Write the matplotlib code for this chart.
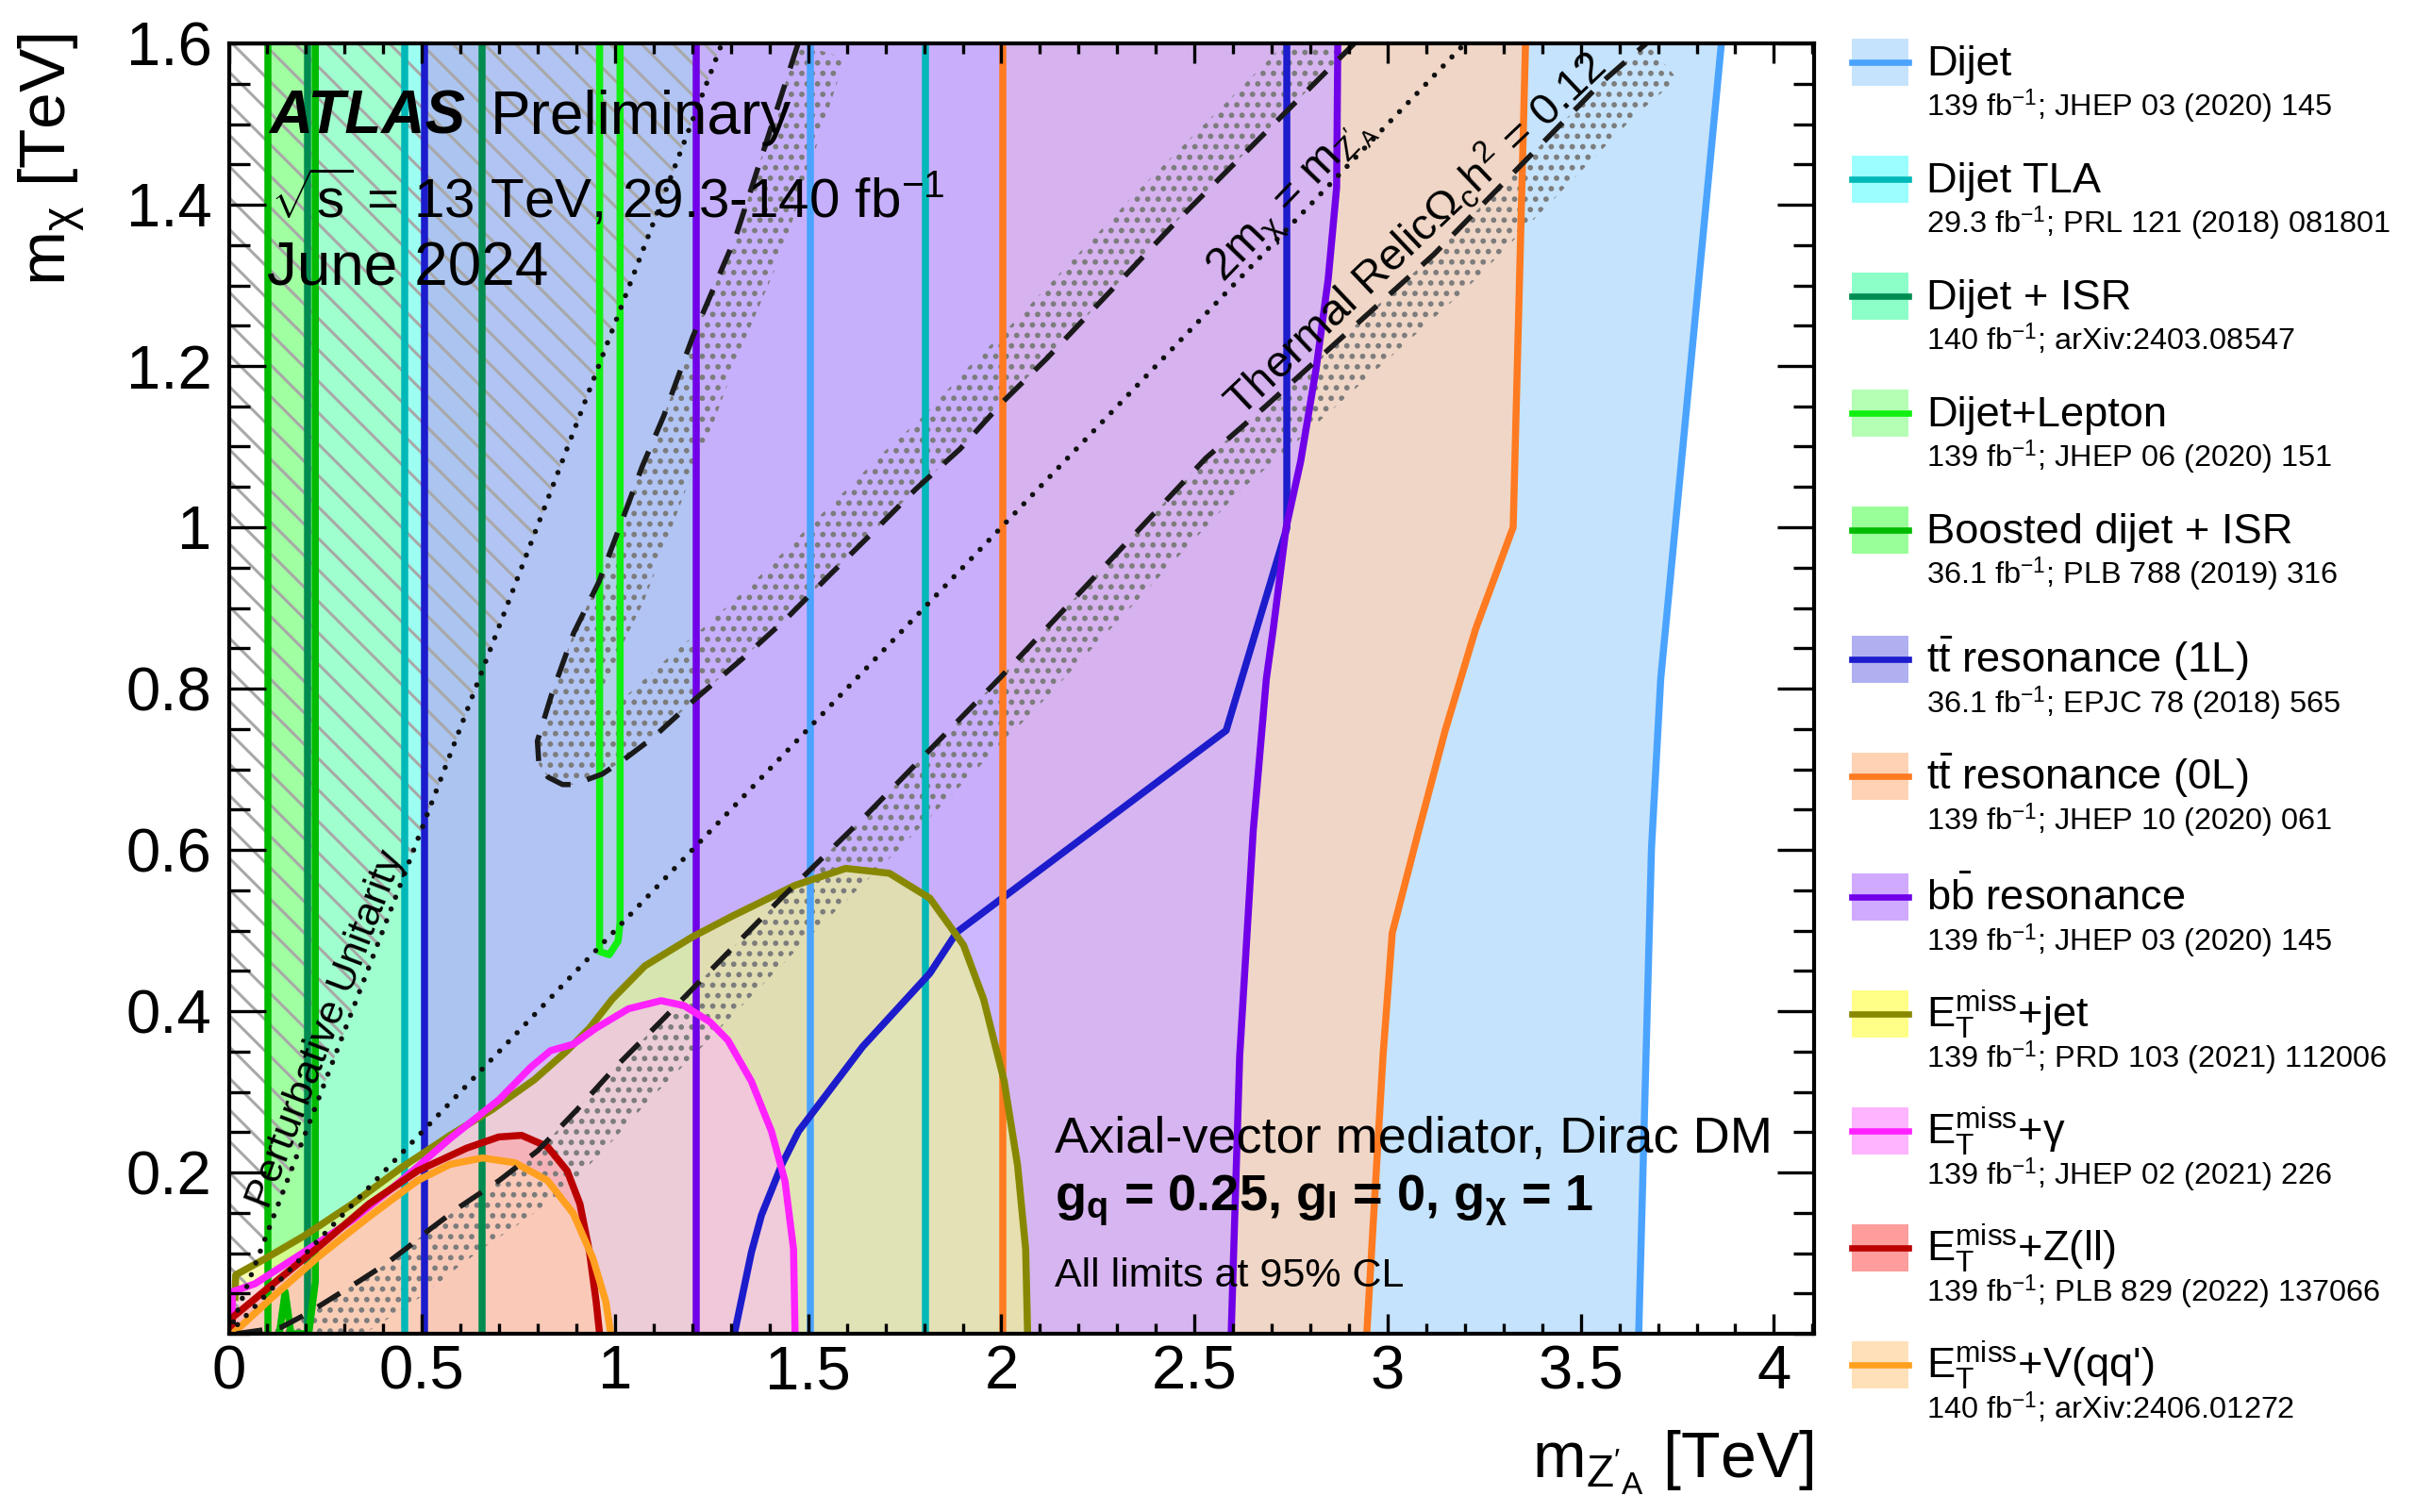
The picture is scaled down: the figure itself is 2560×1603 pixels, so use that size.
import numpy as np
import matplotlib
matplotlib.use("Agg")
import matplotlib.pyplot as plt
from matplotlib.patches import Polygon, Rectangle
from matplotlib.lines import Line2D
from matplotlib.ticker import FixedLocator, FixedFormatter, MultipleLocator

plt.rcParams['font.family'] = ['Liberation Sans', 'DejaVu Sans']
plt.rcParams['mathtext.fontset'] = 'custom'
plt.rcParams['mathtext.rm'] = 'Liberation Sans'
plt.rcParams['mathtext.it'] = 'Liberation Sans:italic'
plt.rcParams['mathtext.bf'] = 'Liberation Sans:bold'
plt.rcParams['mathtext.sf'] = 'Liberation Sans'
plt.rcParams['mathtext.default'] = 'rm'

# ---------------- axis data ----------------
x_limits = [0.0, 4.104]
y_limits = [0.0, 1.6]
x_tick_values = [0, 0.5, 1, 1.5, 2, 2.5, 3, 3.5, 4]
x_tick_labels = ["0", "0.5", "1", "1.5", "2", "2.5", "3", "3.5", "4"]
y_tick_values = [0.2, 0.4, 0.6, 0.8, 1.0, 1.2, 1.4, 1.6]
y_tick_labels = ["0.2", "0.4", "0.6", "0.8", "1", "1.2", "1.4", "1.6"]

# ---------------- exclusion contours (TeV) ----------------
dijet_left = 1.505
dijet_right_x = [3.650, 3.663, 3.683, 3.707, 3.864]
dijet_right_y = [0.0, 0.236, 0.601, 0.812, 1.6]

tla_left = 0.455
tla_right_x = [1.804, 1.804]
tla_right_y = [0.0, 1.6]

isr_left = 0.203
isr_right_x = [0.655, 0.655]
isr_right_y = [0.0, 1.6]

boosted_left = 0.102
boosted_right_x = [0.131, 0.146, 0.161, 0.207, 0.224, 0.224]
boosted_right_y = [0.0, 0.052, 0.0, 0.0, 0.064, 1.6]

lepton_x = [0.960, 0.960, 0.985, 1.008, 1.013, 1.013]
lepton_y = [1.6, 0.474, 0.470, 0.487, 0.510, 1.6]

tt1l_left = 0.506
tt1l_right_x = [1.309, 1.353, 1.379, 1.431, 1.475, 1.641, 1.815, 1.885, 2.582, 2.739, 2.739]
tt1l_right_y = [0.0, 0.101, 0.147, 0.209, 0.251, 0.356, 0.447, 0.498, 0.748, 0.999, 1.6]

tt0l_left = 2.004
tt0l_right_x = [2.946, 2.988, 3.012, 3.080, 3.149, 3.228, 3.325, 3.342, 3.357]
tt0l_right_y = [0.0, 0.344, 0.497, 0.623, 0.748, 0.874, 1.0, 1.317, 1.6]

bb_left = 1.21
bb_right_x = [2.595, 2.617, 2.652, 2.686, 2.704, 2.737, 2.775, 2.815, 2.846, 2.868, 2.871]
bb_right_y = [0.0, 0.344, 0.623, 0.812, 0.874, 0.999, 1.082, 1.197, 1.307, 1.421, 1.6]

metjet_x = [0.016, 0.018, 0.094, 0.194, 0.320, 0.447, 0.573, 0.682, 0.791, 0.876, 0.934, 0.993,
            1.077, 1.200, 1.300, 1.466, 1.597, 1.710, 1.815, 1.902, 1.954, 2.007, 2.042, 2.063, 2.068]
metjet_y = [0.045, 0.073, 0.093, 0.121, 0.161, 0.206, 0.246, 0.278, 0.315, 0.351, 0.379, 0.415,
            0.456, 0.492, 0.517, 0.556, 0.577, 0.571, 0.540, 0.482, 0.415, 0.314, 0.209, 0.105, 0.0]

metgam_x = [0.009, 0.009, 0.068, 0.194, 0.320, 0.447, 0.573, 0.699, 0.783, 0.833, 0.892, 0.951,
            1.035, 1.119, 1.178, 1.245, 1.292, 1.353, 1.405, 1.440, 1.462, 1.466]
metgam_y = [0.0, 0.052, 0.062, 0.101, 0.141, 0.190, 0.242, 0.290, 0.331, 0.351, 0.359, 0.379,
            0.403, 0.413, 0.407, 0.387, 0.364, 0.313, 0.251, 0.189, 0.105, 0.0]

metz_x = [0.009, 0.009, 0.110, 0.236, 0.363, 0.489, 0.615, 0.699, 0.758, 0.825, 0.876, 0.909, 0.934, 0.951, 0.960]
metz_y = [0.0, 0.020, 0.060, 0.109, 0.161, 0.202, 0.230, 0.244, 0.246, 0.232, 0.202, 0.161, 0.101, 0.040, 0.0]

metv_x = [0.010, 0.110, 0.236, 0.363, 0.489, 0.573, 0.657, 0.741, 0.825, 0.892, 0.943, 0.976, 0.989]
metv_y = [0.0, 0.044, 0.097, 0.145, 0.190, 0.210, 0.218, 0.212, 0.190, 0.149, 0.093, 0.040, 0.0]

# ---------------- theory lines ----------------
unitarity_x = [0.0, 1.2767]
unitarity_y = [0.0, 1.6]
twom_x = [0.0, 3.2]
twom_y = [0.0, 1.6]

relic_x = [0.02, 0.136, 0.203, 0.27, 0.337, 0.405, 0.463, 0.522, 0.60, 0.70, 0.80, 0.90, 1.00,
           1.12, 1.24, 1.43, 1.65, 2.00, 2.53, 2.684, 3.119, 3.555, 3.67]
relic_y = [0.0, 0.008, 0.025, 0.045, 0.065, 0.086, 0.107, 0.130, 0.158, 0.190, 0.227, 0.277, 0.330,
           0.388, 0.447, 0.540, 0.643, 0.815, 1.086, 1.150, 1.338, 1.552, 1.6]

tongue_x = [1.474, 1.313, 1.201, 1.126, 1.070, 1.014, 0.958, 0.893, 0.836, 0.799, 0.803, 0.827, 0.864,
            0.893, 0.967, 1.023, 1.098, 1.210, 1.332, 1.444, 1.556, 1.668, 1.780, 1.893, 2.005,
            2.117, 2.445, 2.914]
tongue_y = [1.6, 1.361, 1.236, 1.138, 1.075, 1.003, 0.932, 0.869, 0.793, 0.735, 0.705, 0.690, 0.681,
            0.681, 0.694, 0.712, 0.739, 0.788, 0.838, 0.887, 0.941, 0.994, 1.048, 1.097, 1.156,
            1.209, 1.375, 1.6]

# ---------------- legend ----------------
legend_labels = ["Dijet", "Dijet TLA", "Dijet + ISR", "Dijet+Lepton", "Boosted dijet + ISR",
                 r"t$\bar{\mathrm{t}}$ resonance (1L)", r"t$\bar{\mathrm{t}}$ resonance (0L)",
                 r"b$\bar{\mathrm{b}}$ resonance",
                 r"E$_{\mathrm{T}}^{\mathrm{miss}}$+jet", r"E$_{\mathrm{T}}^{\mathrm{miss}}$+$\gamma$",
                 r"E$_{\mathrm{T}}^{\mathrm{miss}}$+Z(ll)", r"E$_{\mathrm{T}}^{\mathrm{miss}}$+V(qq')"]
legend_refs = [r"139 fb$^{-1}$; JHEP 03 (2020) 145", r"29.3 fb$^{-1}$; PRL 121 (2018) 081801",
               r"140 fb$^{-1}$; arXiv:2403.08547", r"139 fb$^{-1}$; JHEP 06 (2020) 151",
               r"36.1 fb$^{-1}$; PLB 788 (2019) 316", r"36.1 fb$^{-1}$; EPJC 78 (2018) 565",
               r"139 fb$^{-1}$; JHEP 10 (2020) 061", r"139 fb$^{-1}$; JHEP 03 (2020) 145",
               r"139 fb$^{-1}$; PRD 103 (2021) 112006", r"139 fb$^{-1}$; JHEP 02 (2021) 226",
               r"139 fb$^{-1}$; PLB 829 (2022) 137066", r"140 fb$^{-1}$; arXiv:2406.01272"]
line_colors = ['#4aa3ff', '#00b8b8', '#008c50', '#11f011', '#00bb00', '#1c1ccc',
               '#ff7a20', '#7000e8', '#888800', '#ff22ff', '#bb0000', '#ffa020']
swatch_colors = ['#c5e3fc', '#9cffff', '#8cffc8', '#b4ffb4', '#99ff99', '#b0b0f0',
                 '#ffd2b4', '#cfaaff', '#ffff88', '#ffb4ff', '#ff9c9c', '#ffe0b8']

# ---------------- figure ----------------
W, H = 2560, 1603
DPI = 200
LW = 2.7
fig = plt.figure(figsize=(W / DPI, H / DPI), dpi=DPI)
ax = fig.add_axes([242.5 / W, 1 - 1414 / H, (1923 - 242.5) / W, (1414 - 46) / H])
ax.set_xlim(x_limits)
ax.set_ylim(y_limits)
ytop = y_limits[1]


def vband_poly(left, rx, ry):
    return [(left, ytop), (left, 0.0)] + list(zip(rx, ry))


def add_fill(pts, color, alpha, z):
    ax.add_patch(Polygon(pts, closed=True, facecolor=color, edgecolor='none', alpha=alpha, zorder=z))


def add_vband_lines(left, rx, ry, color, z):
    ax.plot([left, left], [0.0, ytop], color=color, lw=LW, zorder=z, solid_capstyle='butt')
    ax.plot(rx, ry, color=color, lw=LW, zorder=z, solid_joinstyle='round')


# fills
add_fill(vband_poly(dijet_left, dijet_right_x, dijet_right_y), '#c5e3fc', 1.0, 1.00)
add_fill(vband_poly(isr_left, isr_right_x, isr_right_y), '#80ffc0', 0.75, 1.05)
add_fill(vband_poly(tla_left, tla_right_x, tla_right_y), '#9cffff', 0.75, 1.10)
add_fill(vband_poly(boosted_left, boosted_right_x, boosted_right_y), '#80ff80', 0.75, 1.15)
add_fill(vband_poly(tt1l_left, tt1l_right_x, tt1l_right_y), '#b0b0f0', 0.75, 1.20)
add_fill(list(zip(lepton_x, lepton_y)), '#b4ffb4', 0.2, 1.25)
add_fill(vband_poly(tt0l_left, tt0l_right_x, tt0l_right_y), '#ffd2b4', 0.75, 1.30)
add_fill(vband_poly(bb_left, bb_right_x, bb_right_y), '#cfaaff', 0.75, 1.35)
add_fill(list(zip(metjet_x, metjet_y)) + [(metjet_x[0], 0.0)], '#f4ff80', 0.58, 1.40)
add_fill(list(zip(metgam_x, metgam_y)), '#ffb4ff', 0.5, 1.45)
add_fill(list(zip(metz_x, metz_y)), '#ff9c9c', 0.5, 1.50)
add_fill(list(zip(metv_x, metv_y)), '#ffe0b8', 0.5, 1.55)

# perturbative unitarity hatch
with plt.rc_context({'hatch.linewidth': 1.1}):
    hp = Polygon([(unitarity_x[0], unitarity_y[0]), (unitarity_x[1], unitarity_y[1]), (0.0, ytop)],
                 closed=True, facecolor='none', edgecolor='#a8a8a8', lw=0, hatch='\\\\', zorder=1.8)
    ax.add_patch(hp)


def offset_curve(xs, ys, width_px, side):
    pts = ax.transData.transform(np.column_stack([xs, ys]))
    d = np.gradient(pts, axis=0)
    n = np.column_stack([-d[:, 1], d[:, 0]])
    n /= np.linalg.norm(n, axis=1)[:, None]
    off = pts + side * width_px * n
    return ax.transData.inverted().transform(off)


def add_band(xs, ys, width_px, side):
    off = offset_curve(xs, ys, width_px, side)
    pts = list(zip(xs, ys)) + [tuple(p) for p in off[::-1]]
    with plt.rc_context({'hatch.linewidth': 1.25}):
        ax.add_patch(Polygon(pts, closed=True, facecolor='none', edgecolor='#7c7c7c', lw=0,
                             hatch='...', zorder=1.9))


add_band(relic_x, relic_y, 50, -1)
add_band(tongue_x, tongue_y, 52, +1)

# contour lines (legend order)
add_vband_lines(dijet_left, dijet_right_x, dijet_right_y, line_colors[0], 2.10)
add_vband_lines(tla_left, tla_right_x, tla_right_y, line_colors[1], 2.11)
add_vband_lines(isr_left, isr_right_x, isr_right_y, line_colors[2], 2.12)
ax.plot(lepton_x, lepton_y, color=line_colors[3], lw=LW, zorder=2.13)
add_vband_lines(boosted_left, boosted_right_x, boosted_right_y, line_colors[4], 2.14)
add_vband_lines(tt1l_left, tt1l_right_x, tt1l_right_y, line_colors[5], 2.15)
add_vband_lines(tt0l_left, tt0l_right_x, tt0l_right_y, line_colors[6], 2.16)
add_vband_lines(bb_left, bb_right_x, bb_right_y, line_colors[7], 2.17)
ax.plot(metjet_x, metjet_y, color=line_colors[8], lw=LW, zorder=2.18)
ax.plot(metgam_x, metgam_y, color=line_colors[9], lw=LW, zorder=2.19)
ax.plot(metz_x, metz_y, color=line_colors[10], lw=LW, zorder=2.20)
ax.plot(metv_x, metv_y, color=line_colors[11], lw=LW, zorder=2.21)

# theory lines
ax.plot(unitarity_x, unitarity_y, color='#111111', lw=2.0, ls=(0, (0.01, 2.4)),
        dash_capstyle='round', zorder=2.3)
ax.plot(twom_x, twom_y, color='#111111', lw=2.0, ls=(0, (0.01, 2.4)),
        dash_capstyle='round', zorder=2.3)
ax.plot(relic_x, relic_y, color='#1a1a1a', lw=2.0, ls=(0, (5.0, 3.3)), zorder=2.3)
ax.plot(tongue_x, tongue_y, color='#1a1a1a', lw=2.0, ls=(0, (5.0, 3.3)), zorder=2.3)

# axes styling
for sp in ax.spines.values():
    sp.set_linewidth(1.5)
    sp.set_zorder(5)
ax.xaxis.set_major_locator(FixedLocator(x_tick_values))
ax.xaxis.set_major_formatter(FixedFormatter(x_tick_labels))
ax.yaxis.set_major_locator(FixedLocator(y_tick_values))
ax.yaxis.set_major_formatter(FixedFormatter(y_tick_labels))
ax.xaxis.set_minor_locator(MultipleLocator(0.1))
ax.yaxis.set_minor_locator(MultipleLocator(0.05))
ax.tick_params(which='both', direction='in', top=True, right=True, width=1.2, zorder=5)
ax.tick_params(axis='x', which='major', length=7.5, labelsize=23.5, pad=4)
ax.tick_params(axis='x', which='minor', length=3.8)
ax.tick_params(axis='y', which='major', length=14.0, labelsize=23.5, pad=6.5)
ax.tick_params(axis='y', which='minor', length=7.8)
ax.set_axisbelow(False)

ax.text(-0.112, 1.008, r"m$_{\chi}$ [TeV]", transform=ax.transAxes, rotation=90,
        ha='center', va='top', fontsize=25)
ax.text(1.0, -0.1118, r"m$_{\mathrm{Z'_{A}}}$ [TeV]", transform=ax.transAxes,
        ha='right', va='baseline', fontsize=24.5)

# labels inside plot
ax.text(0.105, 1.488, "ATLAS", fontsize=23, fontweight='bold', fontstyle='italic', zorder=6)
ax.text(0.678, 1.488, "Preliminary", fontsize=23, zorder=6)
ax.text(0.108, 1.384, r"$\sqrt{s}$ = 13 TeV, 29.3-140 fb$^{-1}$", fontsize=21, zorder=6)
ax.text(0.100, 1.300, "June 2024", fontsize=23, zorder=6)

ax.text(2.137, 0.225, "Axial-vector mediator, Dirac DM", fontsize=19.5, zorder=6)
ax.text(2.137, 0.152, r"$\mathbf{g_{q}}$ = 0.25, $\mathbf{g_{l}}$ = 0, $\mathbf{g_{\chi}}$ = 1",
        fontsize=19.5, fontweight='bold', zorder=6)
ax.text(2.137, 0.058, "All limits at 95% CL", fontsize=15.5, zorder=6)

ax.text(0.253, 0.378, "Perturbative Unitarity", fontsize=15.5, rotation=69.1,
        rotation_mode='anchor', ha='center', va='center', zorder=6)
ax.text(2.752, 1.407, r"2m$_{\chi}$ = m$_{\mathrm{Z'_{A}}}$", fontsize=17.5, rotation=46.2,
        rotation_mode='anchor', ha='center', va='center', zorder=6)
ax.text(3.07, 1.365, r"Thermal Relic$\Omega_{c}h^{2}$ = 0.12", fontsize=17, rotation=43.5,
        rotation_mode='anchor', ha='center', va='center', zorder=6)

# legend (figure pixel layout)
leg_x0, leg_x1, leg_h = 1963, 2023, 50
leg_centers = [66, 190, 314, 438, 562, 699, 823, 951, 1075, 1199, 1323, 1447]
for lab, ref, lc, sc, c in zip(legend_labels, legend_refs, line_colors, swatch_colors, leg_centers):
    fig.add_artist(Rectangle((leg_x0 / W, 1 - (c + leg_h / 2) / H), (leg_x1 - leg_x0) / W, leg_h / H,
                             transform=fig.transFigure, facecolor=sc, edgecolor='none'))
    fig.add_artist(Line2D([leg_x0 / W, leg_x1 / W], [1 - c / H, 1 - c / H], transform=fig.transFigure,
                          color=lc, lw=2.4))
    fig.text(2042 / W, 1 - (c + 14) / H, lab, fontsize=16.3, ha='left', va='baseline')
    fig.text(2042 / W, 1 - (c + 57) / H, ref, fontsize=11.7, ha='left', va='baseline')

fig.savefig("out.png", dpi=DPI)
